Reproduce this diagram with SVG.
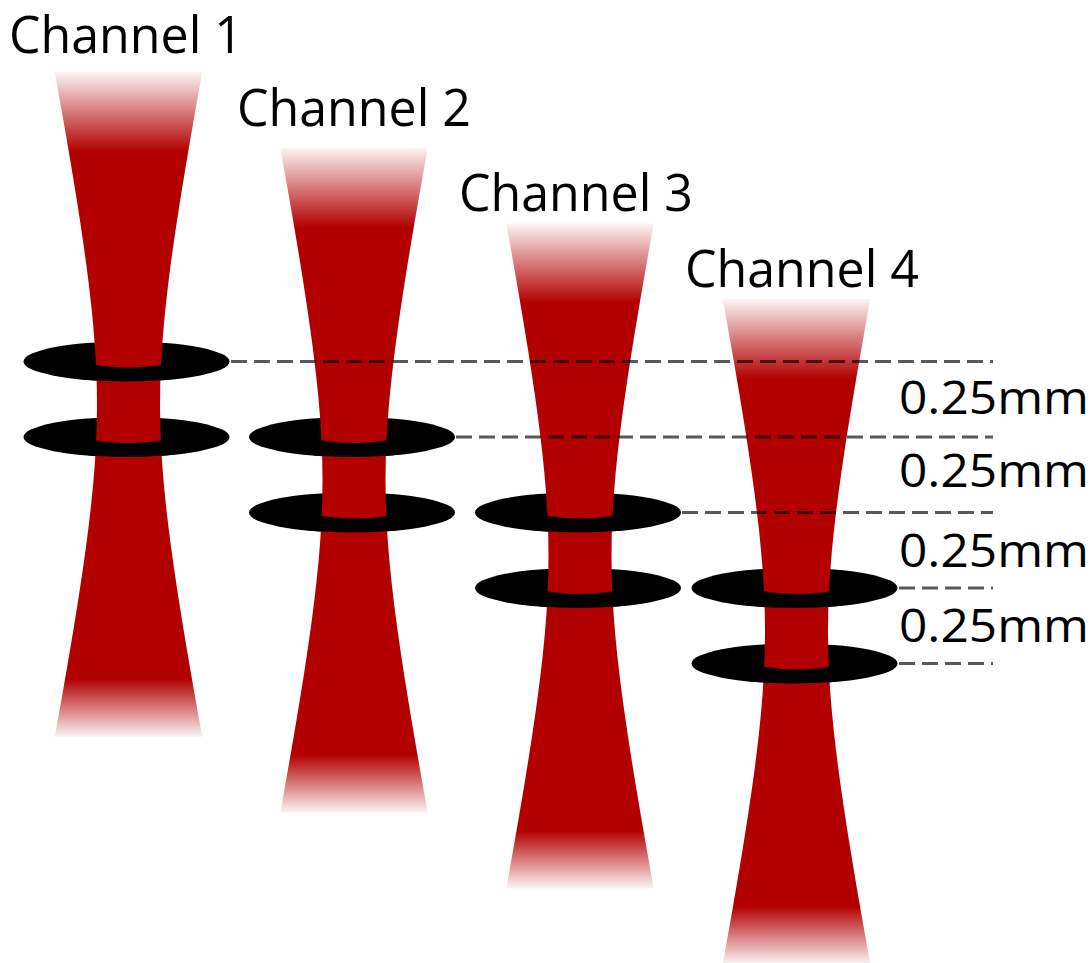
<svg xmlns="http://www.w3.org/2000/svg" xmlns:xlink="http://www.w3.org/1999/xlink" width="1091" height="963" viewBox="0 0 1091 963">
  <style>
    .label { font-family: "Open Sans", "Noto Sans", "Liberation Sans", sans-serif; font-weight: 500; fill: #000; }
    .chan { font-size: 52px; }
    .dist { font-size: 46px; }
    .disc { fill: #000; }
    .beam { fill: url(#beamFade); }
    .guide { stroke: #000; stroke-opacity: 0.65; stroke-width: 3; stroke-dasharray: 16 7; fill: none; }
  </style>
  <defs>
    <!-- red beam fading out at both ends -->
    <linearGradient id="beamFade" x1="0" y1="0" x2="0" y2="1">
      <stop offset="0" stop-color="#b20000" stop-opacity="0.04"/>
      <stop offset="0.12" stop-color="#b20000" stop-opacity="1"/>
      <stop offset="0.913" stop-color="#b20000" stop-opacity="1"/>
      <stop offset="1" stop-color="#b20000" stop-opacity="0.04"/>
    </linearGradient>
    <!-- focused beam profile (hyperbolic waist), centred on the waist -->
    <path id="beam" d="M -73.8,-332.5 L -71.51,-320 L -67.94,-300 L -64.41,-280 L -60.94,-260 L -57.54,-240 L -54.23,-220 L -51.01,-200 L -47.92,-180 L -44.98,-160 L -42.2,-140 L -39.65,-120 L -37.35,-100 L -35.36,-80 L -33.72,-60 L -32.51,-40 L -31.75,-20 L -31.5,0 L -31.75,20 L -32.51,40 L -33.72,60 L -35.36,80 L -37.35,100 L -39.65,120 L -42.2,140 L -44.98,160 L -47.92,180 L -51.01,200 L -54.23,220 L -57.54,240 L -60.94,260 L -64.41,280 L -67.94,300 L -71.51,320 L -73.8,332.5 L 73.8,332.5 L 71.51,320 L 67.94,300 L 64.41,280 L 60.94,260 L 57.54,240 L 54.23,220 L 51.01,200 L 47.92,180 L 44.98,160 L 42.2,140 L 39.65,120 L 37.35,100 L 35.36,80 L 33.72,60 L 32.51,40 L 31.75,20 L 31.5,0 L 31.75,-20 L 32.51,-40 L 33.72,-60 L 35.36,-80 L 37.35,-100 L 39.65,-120 L 42.2,-140 L 44.98,-160 L 47.92,-180 L 51.01,-200 L 54.23,-220 L 57.54,-240 L 60.94,-260 L 64.41,-280 L 67.94,-300 L 71.51,-320 L 73.8,-332.5 Z"/>
    <!-- aperture disc, back part (full ellipse) -->
    <ellipse id="discBack" cx="0" cy="0" rx="103" ry="20"/>
    <!-- aperture disc, front rim passing in front of the beam -->
    <path id="discFront" d="M -38,2 Q 2,10 42,2 L 42,18.26 A 103 20 0 0 1 -38,18.59 Z"/>
  </defs>

  <rect width="1091" height="963" fill="#fff"/>

  <g id="channel-1">
    <use xlink:href="#discBack" class="disc" transform="translate(126.5,361.5)"/>
    <use xlink:href="#discBack" class="disc" transform="translate(126.5,437)"/>
    <use xlink:href="#beam" class="beam" transform="translate(128.5,404.5)"/>
    <use xlink:href="#discFront" class="disc" transform="translate(126.5,361.5)"/>
    <use xlink:href="#discFront" class="disc" transform="translate(126.5,437)"/>
    <text class="label chan" x="9" y="53" textLength="234" lengthAdjust="spacingAndGlyphs">Channel 1</text>
  </g>

  <g id="channel-2">
    <use xlink:href="#discBack" class="disc" transform="translate(352,437)"/>
    <use xlink:href="#discBack" class="disc" transform="translate(352,512.5)"/>
    <use xlink:href="#beam" class="beam" transform="translate(354,480.2)"/>
    <use xlink:href="#discFront" class="disc" transform="translate(352,437)"/>
    <use xlink:href="#discFront" class="disc" transform="translate(352,512.5)"/>
    <text class="label chan" x="237" y="126" textLength="234" lengthAdjust="spacingAndGlyphs">Channel 2</text>
  </g>

  <g id="channel-3">
    <use xlink:href="#discBack" class="disc" transform="translate(578,512.5)"/>
    <use xlink:href="#discBack" class="disc" transform="translate(578,588)"/>
    <use xlink:href="#beam" class="beam" transform="translate(580,555.9)"/>
    <use xlink:href="#discFront" class="disc" transform="translate(578,512.5)"/>
    <use xlink:href="#discFront" class="disc" transform="translate(578,588)"/>
    <text class="label chan" x="459" y="211" textLength="234" lengthAdjust="spacingAndGlyphs">Channel 3</text>
  </g>

  <g id="channel-4">
    <use xlink:href="#discBack" class="disc" transform="translate(794.5,588)"/>
    <use xlink:href="#discBack" class="disc" transform="translate(794.5,663.5)"/>
    <use xlink:href="#beam" class="beam" transform="translate(796.5,631.6)"/>
    <use xlink:href="#discFront" class="disc" transform="translate(794.5,588)"/>
    <use xlink:href="#discFront" class="disc" transform="translate(794.5,663.5)"/>
    <text class="label chan" x="685" y="287" textLength="234" lengthAdjust="spacingAndGlyphs">Channel 4</text>
  </g>

  <!-- dashed reference levels of the disc planes -->
  <g id="connectors">
    <line class="guide" x1="231" y1="361.5" x2="993" y2="361.5"/>
    <line class="guide" x1="456" y1="437" x2="993" y2="437"/>
    <line class="guide" x1="682" y1="512.5" x2="993" y2="512.5"/>
    <line class="guide" x1="899" y1="588" x2="993" y2="588"/>
    <line class="guide" x1="899" y1="663.5" x2="993" y2="663.5"/>
  </g>

  <g id="spacing-labels">
    <text class="label dist" x="899" y="414" textLength="190" lengthAdjust="spacingAndGlyphs">0.25mm</text>
    <text class="label dist" x="899" y="487" textLength="190" lengthAdjust="spacingAndGlyphs">0.25mm</text>
    <text class="label dist" x="899" y="567" textLength="190" lengthAdjust="spacingAndGlyphs">0.25mm</text>
    <text class="label dist" x="899" y="642" textLength="190" lengthAdjust="spacingAndGlyphs">0.25mm</text>
  </g>
</svg>
